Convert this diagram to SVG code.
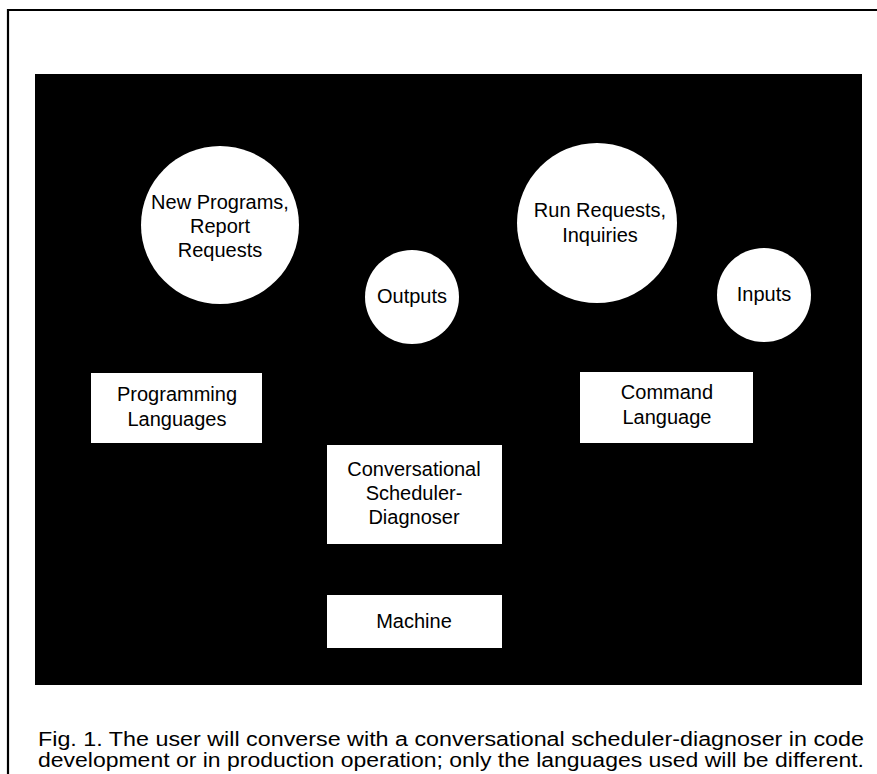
<svg xmlns="http://www.w3.org/2000/svg" width="877" height="774" viewBox="0 0 877 774">
<style>
text{font-family:"Liberation Sans",Arial,sans-serif;fill:#000;}
.n{font-size:20px;text-anchor:middle;}
.cap{font-size:20px;}
.w{fill:#fff;}
</style>
<rect x="0" y="0" width="877" height="774" fill="#fff"/>
<path d="M8,774 V10 H877" fill="none" stroke="#000" stroke-width="2.2"/>
<rect x="35" y="74" width="827" height="611" fill="#000"/>
<g id="connectors"></g>
<g id="new-programs">
<circle class="w" cx="220" cy="225" r="79"/>
<text class="n" x="220" y="209">New Programs,</text>
<text class="n" x="220" y="233">Report</text>
<text class="n" x="220" y="257">Requests</text>
</g>
<g id="outputs">
<circle class="w" cx="412" cy="297" r="47"/>
<text class="n" x="412" y="303">Outputs</text>
</g>
<g id="run-requests">
<circle class="w" cx="597" cy="223" r="80"/>
<text class="n" x="600" y="217">Run Requests,</text>
<text class="n" x="600" y="242">Inquiries</text>
</g>
<g id="inputs">
<circle class="w" cx="764" cy="295" r="47"/>
<text class="n" x="764" y="301">Inputs</text>
</g>
<g id="programming-languages">
<rect class="w" x="91" y="373" width="171" height="70"/>
<text class="n" x="177" y="401">Programming</text>
<text class="n" x="177" y="426">Languages</text>
</g>
<g id="command-language">
<rect class="w" x="580" y="372" width="173" height="71"/>
<text class="n" x="667" y="399">Command</text>
<text class="n" x="667" y="424">Language</text>
</g>
<g id="scheduler">
<rect class="w" x="327" y="445" width="175" height="99"/>
<text class="n" x="414" y="476">Conversational</text>
<text class="n" x="414" y="500">Scheduler-</text>
<text class="n" x="414" y="524">Diagnoser</text>
</g>
<g id="machine">
<rect class="w" x="327" y="595" width="175" height="53"/>
<text class="n" x="414" y="628">Machine</text>
</g>
<text class="cap" x="38" y="746" textLength="826" lengthAdjust="spacingAndGlyphs">Fig. 1. The user will converse with a conversational scheduler-diagnoser in code</text>
<text class="cap" x="38" y="767" textLength="826" lengthAdjust="spacingAndGlyphs">development or in production operation; only the languages used will be different.</text>
</svg>
